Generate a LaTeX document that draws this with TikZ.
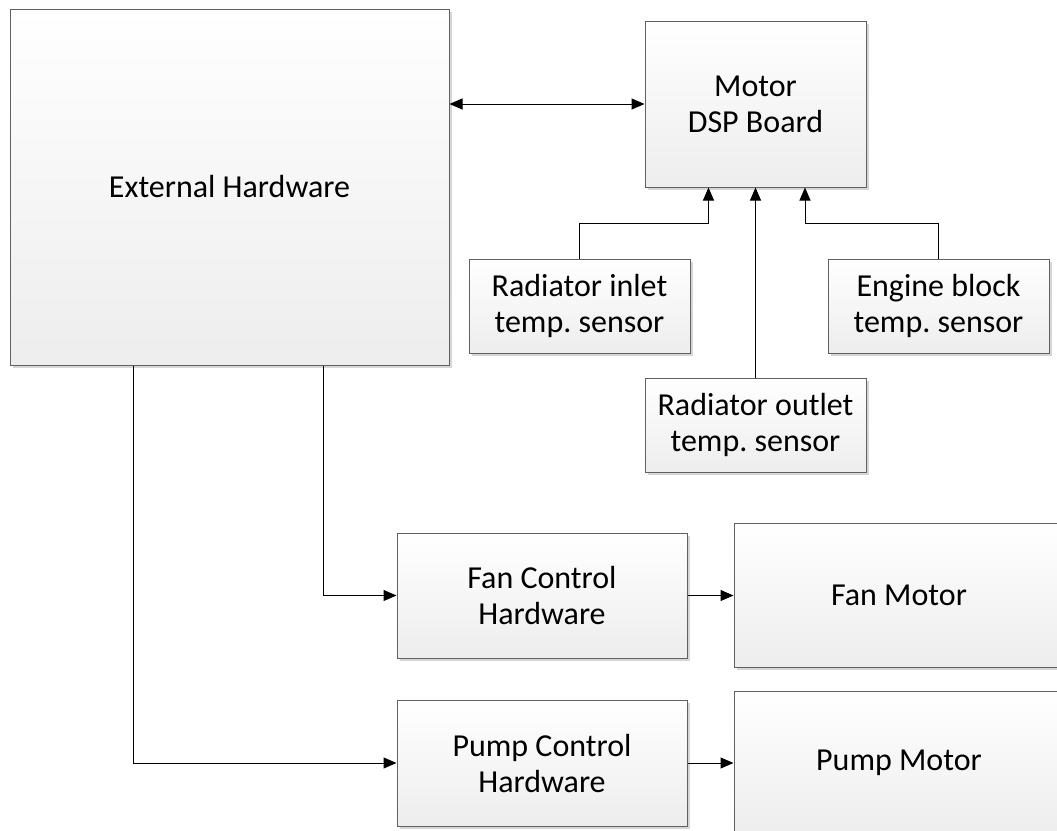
\documentclass[tikz,border=0pt]{standalone}
\usepackage{fontspec}
\setmainfont{Carlito}
\frenchspacing
\usepackage{tikz}
\usetikzlibrary{positioning}
\usetikzlibrary{calc}
\usetikzlibrary{shadows}
\usetikzlibrary{arrows.meta}

\begin{document}
\begin{tikzpicture}[x=0.5pt,y=-0.5pt,
    box/.style={draw=black!62, line width=0.5pt, top color=white, bottom color=black!7,
        drop shadow={shadow xshift=1.5pt, shadow yshift=-1.5pt, fill=black!16, opacity=1},
        align=center, inner sep=0pt, font=\fontsize{16}{18}\selectfont},
    conn/.style={line width=0.5pt, -{Triangle[length=6.5pt,width=5.5pt]}}]

    \clip (0,0) rectangle (1057,831);

    \node[box, minimum width=219.5pt, minimum height=178pt] (ext) at (229.5,187) {External Hardware};
    \node[box, minimum width=110.5pt, minimum height=83pt] (dsp) at (755.5,104) {Motor\\DSP Board};

    \node[box, minimum width=110.5pt, minimum height=47pt] (inlet) at (579.5,306) {Radiator inlet\\temp. sensor};
    \node[box, minimum width=110.5pt, minimum height=47pt] (engine) at (938.5,306) {Engine block\\temp. sensor};
    \node[box, minimum width=110.5pt, minimum height=47pt] (outlet) at (755.5,425) {Radiator outlet\\temp. sensor};

    \node[box, minimum width=145pt, minimum height=62.5pt] (fanctl) at (542,595.5) {Fan Control\\Hardware};
    \node[box, minimum width=145pt, minimum height=63pt] (pumpctl) at (542,763) {Pump Control\\Hardware};
    \node[box, minimum width=165pt, minimum height=72pt] (fanmot) at (899,595) {Fan Motor};
    \node[box, minimum width=165pt, minimum height=72pt] (pumpmot) at (899,763) {Pump Motor};

    % links to the DSP board
    \draw[conn, {Triangle[length=6.5pt,width=5.5pt]}-{Triangle[length=6.5pt,width=5.5pt]}] (ext.east |- dsp.west) -- (dsp.west);
    \draw[conn] (inlet.north) |- ($(dsp.south)+(-47,36)$) -- ($(dsp.south)+(-47,0)$);
    \draw[conn] (outlet.north) -- (dsp.south);
    \draw[conn] (engine.north) |- ($(dsp.south)+(49.5,36)$) -- ($(dsp.south)+(49.5,0)$);

    % fan and pump chains
    \draw[conn] ($(ext.south)+(93.5,0)$) |- (fanctl.west);
    \draw[conn] ($(ext.south)+(-96.5,0)$) |- (pumpctl.west);
    \draw[conn] (fanctl.east) -- (fanctl.east -| fanmot.west);
    \draw[conn] (pumpctl.east) -- (pumpctl.east -| pumpmot.west);

\end{tikzpicture}
\end{document}
